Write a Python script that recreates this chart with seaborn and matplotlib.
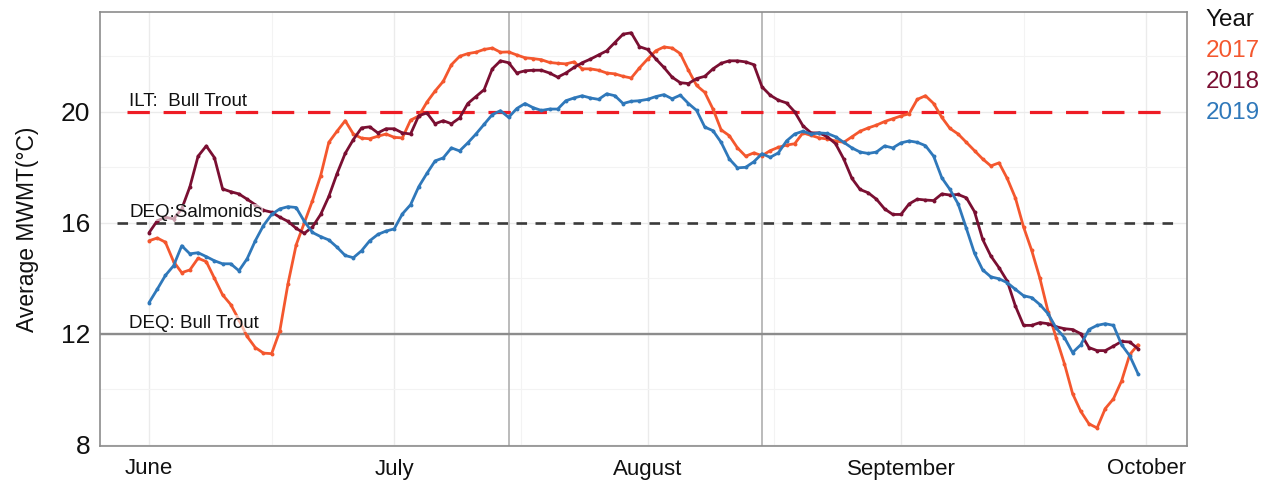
import numpy as np
import pandas as pd
import matplotlib
matplotlib.use("Agg")
import matplotlib.pyplot as plt
import seaborn as sns

# Days counted from June 1 (0 = June 1 ... 121 = Sept 30)
days = list(range(122))

t2017 = [15.35, 15.45, 15.3, 14.6, 14.2, 14.3, 14.72, 14.6, 14.0, 13.4,
         13.05, 12.5, 11.9, 11.5, 11.3, 11.28, 12.1, 13.8, 15.2, 16.0,
         16.8, 17.7, 18.9, 19.3, 19.68, 19.2, 19.05, 19.03, 19.12, 19.2,
         19.08, 19.06, 19.7, 19.85, 20.35, 20.75, 21.1, 21.7, 22.0, 22.1,
         22.15, 22.25, 22.3, 22.15, 22.16, 22.05, 21.95, 21.92, 21.88, 21.78,
         21.75, 21.73, 21.8, 21.55, 21.55, 21.5, 21.4, 21.37, 21.28, 21.22,
         21.58, 21.9, 22.2, 22.34, 22.3, 22.1, 21.5, 20.95, 20.7, 20.1,
         19.35, 19.14, 18.7, 18.4, 18.52, 18.42, 18.6, 18.72, 18.8, 18.85,
         19.24, 19.15, 19.06, 19.02, 18.95, 18.9, 19.1, 19.3, 19.42, 19.52,
         19.65, 19.75, 19.85, 19.93, 20.45, 20.58, 20.3, 19.8, 19.4, 19.2,
         18.9, 18.6, 18.3, 18.05, 18.16, 17.6, 16.9, 15.85, 15.0, 14.0,
         12.8, 11.85, 10.92, 9.84, 9.2, 8.75, 8.6, 9.3, 9.65, 10.3,
         11.25, 11.6]

t2018 = [15.64, 16.07, 16.2, 16.14, 16.5, 17.3, 18.4, 18.77, 18.35, 17.22,
         17.12, 17.04, 16.85, 16.65, 16.45, 16.38, 16.2, 16.05, 15.8, 15.62,
         15.85, 16.3, 16.95, 17.77, 18.5, 19.0, 19.42, 19.46, 19.24, 19.39,
         19.39, 19.24, 19.2, 19.86, 19.96, 19.57, 19.68, 19.57, 19.78, 20.3,
         20.55, 20.8, 21.55, 21.84, 21.77, 21.4, 21.48, 21.5, 21.5, 21.4,
         21.25, 21.4, 21.6, 21.77, 21.9, 22.05, 22.2, 22.5, 22.8, 22.85,
         22.35, 22.25, 21.91, 21.6, 21.25, 21.05, 21.02, 21.2, 21.28, 21.55,
         21.75, 21.84, 21.84, 21.8, 21.7, 20.9, 20.6, 20.42, 20.32, 20.0,
         19.5, 19.24, 19.24, 19.1, 18.85, 18.3, 17.6, 17.2, 17.08, 16.85,
         16.5, 16.3, 16.3, 16.68, 16.85, 16.82, 16.8, 17.04, 17.0, 17.02,
         16.9, 16.4, 15.4, 14.8, 14.38, 13.9, 13.0, 12.3, 12.3, 12.4,
         12.36, 12.25, 12.18, 12.15, 12.0, 11.5, 11.39, 11.39, 11.55, 11.72,
         11.7, 11.46]

t2019 = [13.12, 13.6, 14.1, 14.45, 15.17, 14.88, 14.92, 14.78, 14.63, 14.52,
         14.52, 14.27, 14.7, 15.35, 15.9, 16.3, 16.5, 16.58, 16.55, 16.05,
         15.65, 15.5, 15.38, 15.12, 14.82, 14.74, 14.99, 15.35, 15.58, 15.7,
         15.78, 16.32, 16.65, 17.3, 17.78, 18.23, 18.34, 18.7, 18.59, 18.88,
         19.2, 19.55, 19.9, 20.04, 19.8, 20.12, 20.3, 20.15, 20.05, 20.1,
         20.1, 20.4, 20.5, 20.58, 20.5, 20.45, 20.65, 20.58, 20.3, 20.38,
         20.4, 20.45, 20.55, 20.62, 20.47, 20.6, 20.3, 20.05, 19.45, 19.32,
         18.9, 18.3, 17.98, 18.0, 18.2, 18.49, 18.36, 18.52, 18.95, 19.2,
         19.3, 19.2, 19.24, 19.22, 19.1, 18.9, 18.7, 18.55, 18.5, 18.55,
         18.77, 18.7, 18.88, 18.95, 18.9, 18.78, 18.4, 17.62, 17.2, 16.68,
         15.8, 14.9, 14.3, 14.05, 13.98, 13.84, 13.6, 13.37, 13.3, 13.05,
         12.72, 12.2, 11.86, 11.32, 11.6, 12.15, 12.3, 12.36, 12.3, 11.6,
         11.2, 10.56]

years = ["2017", "2018", "2019"]
year_colors = ["#F4572E", "#7A0F32", "#2F78BA"]

month_labels = ["June", "July", "August", "September", "October"]
month_starts = [0, 30, 61, 92, 122]
ref_days = [44, 75]  # July 15 and Aug 15

thresholds = [20, 16, 12]
threshold_labels = ["ILT:  Bull Trout", "DEQ:Salmonids", "DEQ: Bull Trout"]

df = pd.DataFrame({
    "day": days * 3,
    "temp": t2017 + t2018 + t2019,
    "Year": sum([[y] * len(days) for y in years], []),
})

sns.set_theme(style="white")
plt.rcParams["font.family"] = ["Liberation Sans", "DejaVu Sans"]

fig = plt.figure(figsize=(12.74, 4.83), dpi=100)
ax = fig.add_axes([100 / 1274, 1 - 446 / 483, (1187 - 100) / 1274, (446 - 12) / 483])

# grid
minor_x = [(month_starts[i] + month_starts[i + 1]) / 2 for i in range(len(month_starts) - 1)]
for xv in month_starts:
    ax.axvline(xv, color="#ebebeb", lw=1.0, zorder=0)
for xv in minor_x:
    ax.axvline(xv, color="#f3f3f3", lw=0.8, zorder=0)
for yv in [8, 12, 16, 20]:
    ax.axhline(yv, color="#ebebeb", lw=1.0, zorder=0)
for yv in [10, 14, 18, 22]:
    ax.axhline(yv, color="#f3f3f3", lw=0.8, zorder=0)

# reference verticals (July 15, Aug 15)
for xv in ref_days:
    ax.axvline(xv, color="#b5b5b5", lw=1.3, zorder=1)

# threshold lines
ax.axhline(thresholds[0], color="#EE1C25", lw=2.3, linestyle=(0, (7.0, 4.3)),
           xmin=0.025, xmax=0.985, zorder=2)
ax.axhline(thresholds[1], color="#3a3a3a", lw=1.9, linestyle=(0, (4.0, 3.2)),
           xmin=0.016, xmax=0.992, zorder=2)
ax.axhline(thresholds[2], color="#8c8c8c", lw=1.7, zorder=2)

sns.lineplot(data=df, x="day", y="temp", hue="Year", palette=year_colors,
             marker="o", markersize=2.8, markeredgewidth=0, lw=2.0,
             legend=False, ax=ax, zorder=3)

# threshold labels with translucent white box
for yv, lab in zip(thresholds, threshold_labels):
    ax.text(-2.4, yv + 0.06, lab, fontsize=13.5, color="#111111", va="bottom", ha="left",
            bbox=dict(facecolor="white", edgecolor="none", alpha=0.6, pad=0.3), zorder=4)

ax.set_xlim(-6, 127)
ax.set_ylim(7.95, 23.6)
ax.set_xticks(month_starts)
ax.set_xticklabels(month_labels, fontsize=16, color="#111111")
ax.set_yticks([8, 12, 16, 20])
ax.set_yticklabels(["8", "12", "16", "20"], fontsize=19, color="#111111")
ax.tick_params(axis="both", length=3, color="#888888", width=0.8, pad=4)
ax.tick_params(axis="x", pad=6)
ax.set_xlabel("")
ax.set_ylabel("Average MWMT(°C)", fontsize=16.5, color="#111111", labelpad=16)
for s in ax.spines.values():
    s.set_color("#8c8c8c")
    s.set_linewidth(1.2)

# legend as coloured text
fig.text(1205 / 1274, 1 - 20 / 483, "Year", fontsize=17.5, color="#111111", va="center", ha="left")
for i, (y, c) in enumerate(zip(years, year_colors)):
    fig.text(1206 / 1274, 1 - (51 + 31 * i) / 483, y, fontsize=17.5, color=c, va="center", ha="left")

fig.savefig("out.png", dpi=100)
